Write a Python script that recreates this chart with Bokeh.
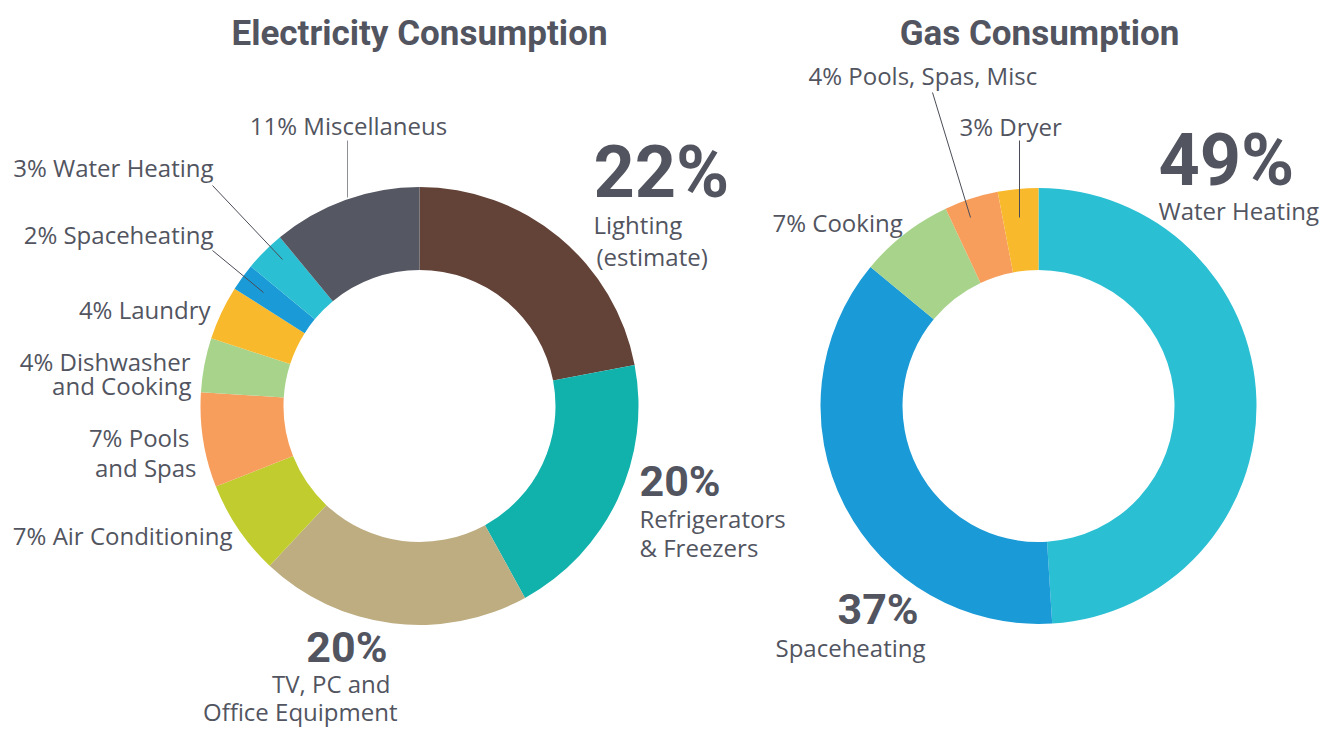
import math
from bokeh.plotting import figure
from bokeh.models import Range1d
from bokeh.core.properties import value
from bokeh.embed import file_html
from bokeh.resources import INLINE

# ---------------- data ----------------
elec_names = ["Lighting (estimate)", "Refrigerators & Freezers", "TV, PC and Office Equipment",
              "Air Conditioning", "Pools and Spas", "Dishwasher and Cooking", "Laundry",
              "Spaceheating", "Water Heating", "Miscellaneus"]
elec_values = [22, 20, 20, 7, 7, 4, 4, 2, 3, 11]
elec_colors = ["#634237", "#11b1ac", "#bead80", "#c1cd2f", "#f79e5d", "#a8d38b",
               "#f9b92d", "#1a9ad6", "#2bbfd3", "#555762"]

gas_names = ["Water Heating", "Spaceheating", "Cooking", "Pools, Spas, Misc", "Dryer"]
gas_values = [49, 37, 7, 4, 3]
gas_colors = ["#2bbfd3", "#1a9ad6", "#a8d38b", "#f79e5d", "#f9b92d"]

TEXT = "#52555f"
LABEL_FONT = value("Open Sans")
BIG_FONT = value("Roboto")
TITLE_FONT = value("Roboto")

W, H = 1323, 729
p = figure(width=W, height=H, output_backend="svg", toolbar_location=None,
           x_range=Range1d(0, W), y_range=Range1d(0, H), min_border=0)
p.axis.visible = False
p.grid.visible = False
p.outline_line_color = None
p.background_fill_color = "white"


def Y(py):
    return 729 - py


def donut(cx, cy, values, colors, r_in, r_out):
    total = float(sum(values))
    starts, ends = [], []
    c = 0.0
    for v in values:
        a0 = c / total
        c += v
        a1 = c / total
        # clockwise from 12 o'clock
        starts.append(math.pi / 2 - 2 * math.pi * a1)
        ends.append(math.pi / 2 - 2 * math.pi * a0)
    n = len(values)
    p.annular_wedge(x=[cx] * n, y=[Y(cy)] * n, inner_radius=r_in, outer_radius=r_out,
                    start_angle=starts, end_angle=ends, direction="anticlock",
                    fill_color=colors, line_color=None)


donut(419, 405.5, elec_values, elec_colors, 136, 219)
donut(1038, 405.5, gas_values, gas_colors, 136, 218)


def txt(x, py, s, size, font, align="left", style="normal", color=TEXT):
    px = float(size.replace("px", ""))
    p.text(x=[x], y=[Y(py - 0.345 * px)], text=[s], text_font=font, text_font_size=size,
           text_font_style=style, text_color=color, text_align=align,
           text_baseline="alphabetic")


def seg(x0, y0, x1, y1, color="#4a4d57"):
    p.segment(x0=[x0], y0=[Y(y0)], x1=[x1], y1=[Y(y1)], line_color=color, line_width=1)


# titles
txt(419, 45, "Electricity Consumption", "35px", TITLE_FONT, align="center", style="bold")
txt(1039, 45, "Gas Consumption", "35px", TITLE_FONT, align="center", style="bold")

LS = "24px"
# electricity labels
e = dict(zip(elec_names, elec_values))
txt(348, 133, f"{e['Miscellaneus']}% Miscellaneus", LS, LABEL_FONT, align="center")
txt(213, 175, f"{e['Water Heating']}% Water Heating", LS, LABEL_FONT, align="right")
txt(213, 242, f"{e['Spaceheating']}% Spaceheating", LS, LABEL_FONT, align="right")
txt(210, 317, f"{e['Laundry']}% Laundry", LS, LABEL_FONT, align="right")
txt(190, 369, f"{e['Dishwasher and Cooking']}% Dishwasher", LS, LABEL_FONT, align="right")
txt(191, 393, "and Cooking", LS, LABEL_FONT, align="right")
txt(189, 445, f"{e['Pools and Spas']}% Pools", LS, LABEL_FONT, align="right")
txt(196, 475, "and Spas", LS, LABEL_FONT, align="right")
txt(232, 543, f"{e['Air Conditioning']}% Air Conditioning", LS, LABEL_FONT, align="right")

txt(593, 197, f"{e['Lighting (estimate)']}%", "72px", BIG_FONT, style="bold")
txt(593, 232, "Lighting", LS, LABEL_FONT)
txt(596, 264, "(estimate)", LS, LABEL_FONT)

txt(639, 495, f"{e['Refrigerators & Freezers']}%", "43px", BIG_FONT, style="bold")
txt(639, 526, "Refrigerators", LS, LABEL_FONT)
txt(639, 555, "& Freezers", LS, LABEL_FONT)

txt(387, 661, f"{e['TV, PC and Office Equipment']}%", "43px", BIG_FONT, align="right", style="bold")
txt(390, 691, "TV, PC and", LS, LABEL_FONT, align="right")
txt(397, 719, "Office Equipment", LS, LABEL_FONT, align="right")

seg(347, 140, 347, 197, color="#8e9098")
seg(212, 185, 282, 259)
seg(212, 250, 263, 292)

# gas labels
g = dict(zip(gas_names, gas_values))
txt(808, 83, f"{g['Pools, Spas, Misc']}% Pools, Spas, Misc", LS, LABEL_FONT)
txt(959, 134, f"{g['Dryer']}% Dryer", LS, LABEL_FONT)
txt(772, 230, f"{g['Cooking']}% Cooking", LS, LABEL_FONT)
txt(1158, 185, f"{g['Water Heating']}%", "72px", BIG_FONT, style="bold")
txt(1158, 218, "Water Heating", LS, LABEL_FONT)
txt(837, 623, f"{g['Spaceheating']}%", "43px", BIG_FONT, style="bold")
txt(775, 655, "Spaceheating", LS, LABEL_FONT)

seg(932, 92, 970, 217)
seg(1019, 140, 1019, 217)

open("out.html", "w").write(file_html(p, INLINE))
